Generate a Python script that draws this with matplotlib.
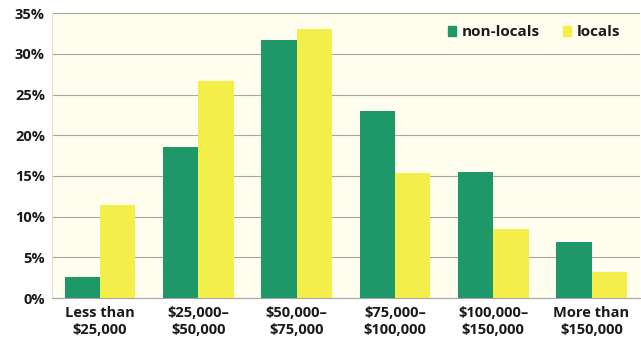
import matplotlib
matplotlib.use("Agg")
import matplotlib.pyplot as plt
import numpy as np
from matplotlib.patches import Patch

categories = ["Less than\n$25,000", "$25,000–\n$50,000", "$50,000–\n$75,000",
              "$75,000–\n$100,000", "$100,000–\n$150,000", "More than\n$150,000"]
non_locals = [2.6, 18.5, 31.7, 23.0, 15.5, 6.9]
locals_ = [11.4, 26.7, 33.1, 15.4, 8.5, 3.2]
yticks = [0, 5, 10, 15, 20, 25, 30, 35]
ytick_labels = [f"{v}%" for v in yticks]

green = "#1e9868"
yellow = "#f4ee4a"
txt = "#1a1a1a"

plt.rcParams['font.family'] = ['Open Sans', 'DejaVu Sans']

fig = plt.figure(figsize=(6.41, 3.45), dpi=100)
ax = fig.add_axes([0.081, 0.136, 0.917, 0.826])
ax.set_facecolor("#fffdee")

x = np.arange(len(categories))
w = 0.36
ax.bar(x - w/2, non_locals, w, color=green, zorder=3)
ax.bar(x + w/2, locals_, w, color=yellow, zorder=3)

ax.set_xlim(-0.49, 5.49)
ax.set_ylim(0, 35)
ax.set_yticks(yticks)
ax.set_yticklabels(ytick_labels, fontsize=10.5, fontweight='bold', color=txt)
ax.set_xticks(x)
ax.set_xticklabels(categories, fontsize=10.5, fontweight='bold', color=txt, linespacing=1.25)
ax.tick_params(axis='both', length=0)
ax.tick_params(axis='y', pad=5)
ax.tick_params(axis='x', pad=6)
ax.yaxis.grid(True, color="#a5a5a5", lw=0.8, zorder=0)
for s in ["top", "right"]:
    ax.spines[s].set_visible(False)
ax.spines["left"].set_color("#e0e0d8")
ax.spines["left"].set_linewidth(0.8)
ax.spines["bottom"].set_color("#a5a5a5")
ax.spines["bottom"].set_linewidth(0.8)

handles = [Patch(color=green, label="non-locals"), Patch(color=yellow, label="locals")]
leg = ax.legend(handles=handles, loc="upper right", ncol=2, frameon=False,
                handlelength=0.55, handleheight=0.55, handletextpad=0.35, columnspacing=1.5,
                bbox_to_anchor=(0.99, 1.005),
                prop={'size': 11.0, 'weight': 'bold'})
for t in leg.get_texts():
    t.set_color(txt)

fig.savefig("out.png", dpi=100, facecolor="white")
